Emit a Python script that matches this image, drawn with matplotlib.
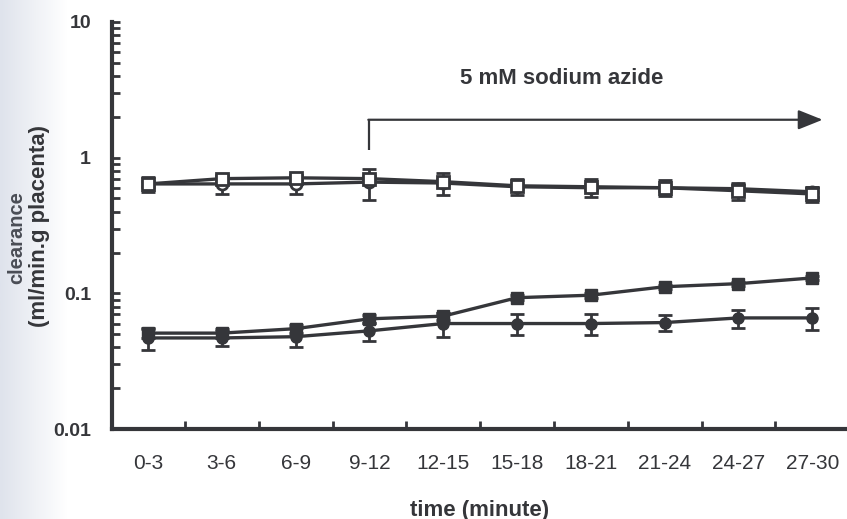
import numpy as np
import matplotlib
matplotlib.use("Agg")
import matplotlib.pyplot as plt
from matplotlib.ticker import FixedLocator, LogLocator, NullFormatter

# clearance per 3-minute interval (ml/min.g placenta)
periods = ["0-3", "3-6", "6-9", "9-12", "12-15", "15-18", "18-21", "21-24", "24-27", "27-30"]

open_sq = [0.64, 0.70, 0.71, 0.70, 0.665, 0.62, 0.61, 0.60, 0.57, 0.54]
open_sq_err = [0.03, 0.03, 0.03, 0.03, 0.03, 0.03, 0.03, 0.03, 0.08, 0.07]

open_ci = [0.64, 0.64, 0.64, 0.66, 0.65, 0.61, 0.60, 0.60, 0.59, 0.56]
open_ci_err = [0.08, 0.10, 0.10, 0.17, 0.12, 0.08, 0.09, 0.08, 0.05, 0.05]

filled_sq = [0.051, 0.051, 0.055, 0.065, 0.068, 0.093, 0.097, 0.112, 0.118, 0.130]
filled_sq_err = [0.004, 0.004, 0.004, 0.004, 0.004, 0.004, 0.004, 0.004, 0.004, 0.004]

filled_ci = [0.047, 0.047, 0.048, 0.053, 0.060, 0.060, 0.060, 0.061, 0.066, 0.066]
filled_ci_err = [0.009, 0.006, 0.008, 0.008, 0.012, 0.011, 0.011, 0.008, 0.010, 0.012]

ink = "#35363a"
font = "Liberation Sans"
x = np.arange(len(periods))

fig = plt.figure(figsize=(8.47, 5.19), dpi=100)

# faint scanner shading along the left margin
bg = fig.add_axes([0, 0, 0.08, 1], zorder=-5)
grad = np.linspace(0, 1, 64)[None, :]
bg.imshow(grad, aspect="auto", cmap=matplotlib.colors.LinearSegmentedColormap.from_list(
    "shade", ["#dfe3ec", "#ffffff"]), extent=[0, 1, 0, 1])
bg.axis("off")

ax = fig.add_axes([0.132, 0.173, 0.868, 0.785])
ax.set_yscale("log")
ax.set_ylim(0.01, 10)
ax.set_xlim(-0.49, 9.47)

common = dict(color=ink, lw=2.4, capsize=5, elinewidth=2, capthick=2)
ax.errorbar(x, open_ci, yerr=open_ci_err, fmt="-o", ms=8, mfc="white", mec=ink, mew=2, **common)
ax.errorbar(x, open_sq, yerr=open_sq_err, fmt="-s", ms=8.5, mfc="white", mec=ink, mew=2, **common)
ax.errorbar(x, filled_ci, yerr=filled_ci_err, fmt="-o", ms=8, mfc=ink, mec=ink, **common)
ax.errorbar(x, filled_sq, yerr=filled_sq_err, fmt="-s", ms=9, mfc=ink, mec=ink, **common)

# azide added from the 9-12 min interval onwards
ax.plot([3, 3], [1.13, 1.9], color=ink, lw=1.6, solid_capstyle="butt")
ax.annotate("", xy=(9.14, 1.9), xytext=(2.985, 1.9),
            arrowprops=dict(arrowstyle="-|>,head_length=1.5,head_width=0.6",
                            color=ink, lw=1.6, shrinkA=0, shrinkB=0))
ax.text(5.6, 3.83, "5 mM sodium azide", ha="center", va="center",
        fontsize=16, fontweight="bold", family=font, color=ink)

for side in ["top", "right"]:
    ax.spines[side].set_visible(False)
for side in ["left", "bottom"]:
    ax.spines[side].set_linewidth(3)
    ax.spines[side].set_color(ink)

ax.yaxis.set_major_locator(FixedLocator([0.01, 0.1, 1, 10]))
ax.set_yticklabels(["0.01", "0.1", "1", "10"])
ax.yaxis.set_minor_locator(LogLocator(base=10, subs=np.arange(2, 10)))
ax.yaxis.set_minor_formatter(NullFormatter())
ax.tick_params(axis="y", which="both", direction="in", color=ink, width=2, length=6,
               labelsize=14, pad=15, labelcolor=ink)

ax.set_xticks(x)
ax.set_xticklabels(periods)
ax.set_xticks(x[:-1] + 0.5, minor=True)
ax.tick_params(axis="x", which="major", length=0, pad=18, labelsize=15, labelcolor=ink)
ax.tick_params(axis="x", which="minor", direction="in", color=ink, width=2, length=6)
for lab in ax.get_xticklabels() + ax.get_yticklabels():
    lab.set_family(font)
for lab in ax.get_yticklabels():
    lab.set_fontweight("bold")

ax.set_xlabel("time (minute)", fontsize=16, fontweight="bold", family=font,
              color=ink, labelpad=19)
fig.text(0.02, 0.543, "clearance", rotation=90, ha="center", va="center",
         fontsize=14.5, fontweight="bold", family=font, color="#4a4d55")
fig.text(0.047, 0.565, "(ml/min.g placenta)", rotation=90, ha="center", va="center",
         fontsize=16, fontweight="bold", family=font, color=ink)

fig.savefig("out.png", dpi=100)
